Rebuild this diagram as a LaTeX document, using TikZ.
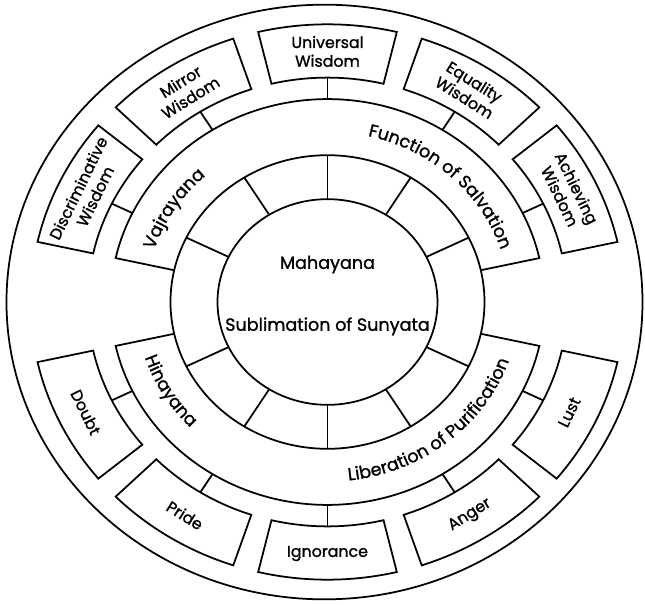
\documentclass[tikz,border=0pt]{standalone}
\usepackage{fontspec}
\setmainfont{Poppins}[FakeBold=1.2]
\usepackage{tikz}
\usetikzlibrary{decorations.text}

\newcommand{\ringfont}{\fontsize{15}{18}\selectfont}
\newcommand{\boxfont}{\fontsize{13.5}{16}\selectfont}

\begin{document}
\begin{tikzpicture}[
    x=0.3mm, y=0.3mm, yscale=0.935,
    line width=1.5pt,
    boxlabel/.style={font=\boxfont, align=center, inner sep=0pt},
    centre/.style={font=\ringfont, inner sep=0pt},
    arctext/.style={decorate, decoration={text along path, text align=center, text={|\ringfont|#1}}}
]
\useasboundingbox (-327.5,-323) rectangle (317.5,323);

% Outer ring
\draw (-3,0) circle (318);

% Centre and its ring of cells
\draw (0,0) circle (110);
\draw (0,0) circle (157);
\foreach \a in {26,58,90,122,154,206,238,270,302,334}
    \draw (\a:110) -- (\a:157);

% Bands
\draw (12.5:157) -- (12.5:217) arc[start angle=12.5, end angle=167.5, radius=217] -- (167.5:157);
\draw (192.5:157) -- (192.5:217) arc[start angle=192.5, end angle=347.5, radius=217] -- (347.5:157);

% Band texts
\path[arctext=Vajrayana] (180:182) arc[start angle=180, end angle=115, radius=182];
\path[arctext={Function of Salvation}] (92:182) arc[start angle=92, end angle=2, radius=182];
\path[arctext=Hinayana] (186:192) arc[start angle=186, end angle=236, radius=192];
\path[arctext={Liberation of Purification}] (264:192) arc[start angle=264, end angle=354, radius=192];

% Centre texts
\node[centre] (maha) at (0,40) {Mahayana};
\node[centre] (suny) at (0,-26) {Sublimation of Sunyata};

% Wisdoms
\foreach \a/\txt [count=\i] in {26/{Achieving\\Wisdom}, 58/{Equality\\Wisdom}, 90/{Universal\\Wisdom}, 122/{Mirror\\Wisdom}, 154/{Discriminative\\Wisdom}} {
    \draw (\a-13.5:240) arc[start angle=\a-13.5, end angle=\a+13.5, radius=240] -- (\a+13.5:297) arc[start angle=\a+13.5, end angle=\a-13.5, radius=297] -- cycle;
    \node[boxlabel, rotate=\a-90] (wis\i) at (\a:268) {\txt};
    \coordinate (wisin\i) at (\a:217);
    \coordinate (wisout\i) at (\a:240);
    \draw (wisin\i) -- (wisout\i);
}

% Poisons
\foreach \a/\txt [count=\i] in {206/Doubt, 238/Pride, 270/Ignorance, 302/Anger, 334/Lust} {
    \draw (\a-13.5:240) arc[start angle=\a-13.5, end angle=\a+13.5, radius=240] -- (\a+13.5:297) arc[start angle=\a+13.5, end angle=\a-13.5, radius=297] -- cycle;
    \node[boxlabel, rotate=\a+90] (poi\i) at (\a:269) {\txt};
    \coordinate (poiin\i) at (\a:217);
    \coordinate (poiout\i) at (\a:240);
    \draw (poiin\i) -- (poiout\i);
}
\end{tikzpicture}
\end{document}
